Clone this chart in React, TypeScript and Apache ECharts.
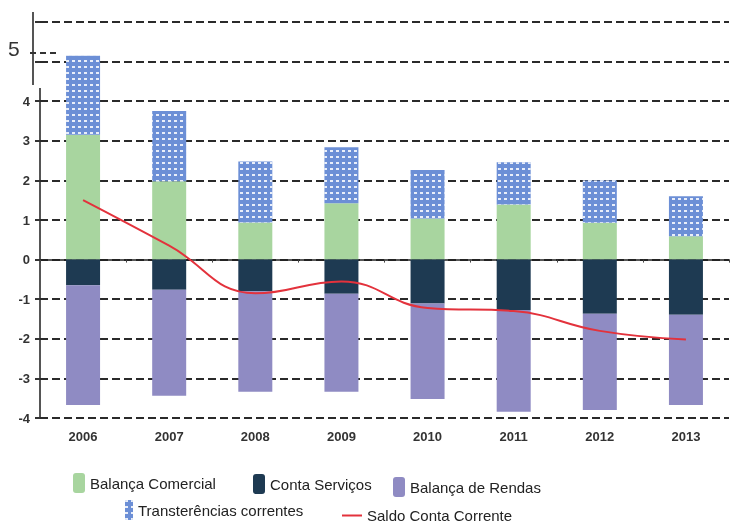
import React, { useEffect, useRef } from "react";
import * as echarts from "echarts";

const categories = ["2006", "2007", "2008", "2009", "2010", "2011", "2012", "2013"];
const balancaComercial = [3.15, 1.98, 0.94, 1.42, 1.04, 1.39, 0.93, 0.59];
const transferencias = [2.0, 1.77, 1.54, 1.42, 1.22, 1.07, 1.07, 1.01];
const contaServicos = [-0.65, -0.76, -0.8, -0.86, -1.11, -1.27, -1.37, -1.39];
const balancaRendas = [-3.02, -2.68, -2.54, -2.48, -2.41, -2.57, -2.43, -2.28];
const saldoConta = [1.5, 0.35, -0.85, -0.55, -1.22, -1.3, -1.8, -2.02];

const GREEN = "#a8d59f";
const BLUE = "#6c8fd6";
const NAVY = "#1e3a52";
const PURPLE = "#8f8bc3";
const RED = "#e3323c";
const legendFont = { fontFamily: "Liberation Sans, Arial, sans-serif", fontSize: 15, color: "#222" };
const axisFont = {
  fontFamily: "Liberation Sans Narrow, Liberation Sans, Arial, sans-serif",
  fontSize: 13,
  fontWeight: "bold" as const,
  color: "#333",
};

export default function App() {
  const ref = useRef<HTMLDivElement>(null);
  useEffect(() => {
    if (!ref.current) return;
    const chart = echarts.init(ref.current, null, { renderer: "svg" });
    const decal = {
      symbol: "rect",
      symbolSize: 1,
      color: "rgba(255,255,255,0.85)",
      dashArrayX: [3, 3],
      dashArrayY: [2, 4],
      rotation: 0,
    };
    const mkLegend = (name: string, left: number, top: number, w = 12, h = 20, icon?: string) => ({
      data: [icon ? { name, icon } : name],
      left,
      top,
      itemWidth: w,
      itemHeight: h,
      padding: 0,
      textStyle: legendFont,
      selectedMode: false,
    });
    chart.setOption({
      animation: false,
      grid: { left: 40, right: 1, top: 22, bottom: 106 },
      legend: [
        mkLegend("Balança Comercial", 73, 473),
        mkLegend("Conta Serviços", 253, 474),
        mkLegend("Balança de Rendas", 393, 477),
        mkLegend("Transterências correntes", 125, 500, 8, 20),
        mkLegend("Saldo Conta Corrente", 342, 508, 20, 2, "rect"),
      ],
      xAxis: [
        {
          type: "category",
          data: categories,
          axisLine: { onZero: true, lineStyle: { color: "#222", width: 1.5 } },
          axisTick: { show: true, length: 3, lineStyle: { color: "#444" } },
          axisLabel: { show: false },
        },
        {
          type: "category",
          data: categories,
          position: "bottom",
          axisLine: { show: false, onZero: false },
          axisTick: { show: false },
          axisLabel: { ...axisFont, margin: 12 },
        },
      ],
      yAxis: {
        type: "value",
        min: -4,
        max: 6,
        interval: 1,
        axisLine: { show: false },
        axisTick: { show: true, length: 5, lineStyle: { color: "#333", width: 2 } },
        axisLabel: {
          ...axisFont,
          margin: 10,
          formatter: (v: number) => (v >= 5 ? "" : String(v)),
        },
        splitLine: { lineStyle: { color: "#2a2a2a", width: 2, type: [8, 4] } },
      },
      graphic: [
        { type: "line", shape: { x1: 40, y1: 88, x2: 40, y2: 419 }, style: { stroke: "#555", lineWidth: 2 } },
        { type: "line", shape: { x1: 33, y1: 12, x2: 33, y2: 85 }, style: { stroke: "#555", lineWidth: 2 } },
        { type: "line", shape: { x1: 30, y1: 53, x2: 56, y2: 53 }, style: { stroke: "#333", lineWidth: 2, lineDash: [6, 4] } },
        { type: "text", x: 8, y: 38, style: { text: "5", fontSize: 21, fill: "#333", fontFamily: "Liberation Sans, Arial, sans-serif" } },
      ],
      series: [
        { name: "Balança Comercial", type: "bar", stack: "a", barWidth: 34, data: balancaComercial, itemStyle: { color: GREEN } },
        { name: "Transterências correntes", type: "bar", stack: "a", data: transferencias, itemStyle: { color: BLUE, decal } },
        { name: "Conta Serviços", type: "bar", stack: "a", data: contaServicos, itemStyle: { color: NAVY } },
        { name: "Balança de Rendas", type: "bar", stack: "a", data: balancaRendas, itemStyle: { color: PURPLE } },
        {
          name: "Saldo Conta Corrente",
          type: "line",
          data: saldoConta,
          smooth: 0.45,
          symbol: "none",
          z: 5,
          lineStyle: { color: RED, width: 2 },
          itemStyle: { color: RED },
        },
      ],
    });
    return () => chart.dispose();
  }, []);
  return <div ref={ref} style={{ position: "fixed", left: 0, top: 0, width: 730, height: 524 }} />;
}
